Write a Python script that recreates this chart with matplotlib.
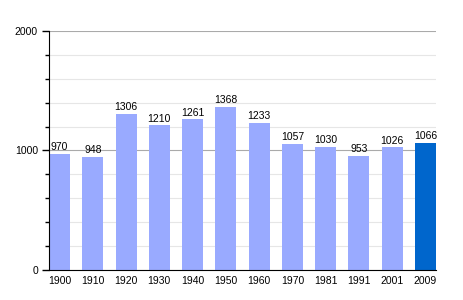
import matplotlib
matplotlib.use("Agg")
import matplotlib.pyplot as plt
from matplotlib.ticker import MultipleLocator

years = ["1900", "1910", "1920", "1930", "1940", "1950", "1960", "1970", "1981", "1991", "2001", "2009"]
population = [970, 948, 1306, 1210, 1261, 1368, 1233, 1057, 1030, 953, 1026, 1066]
colors = ["#99aaff"] * 11 + ["#0066cc"]

plt.rcParams['font.family'] = ['Liberation Sans', 'DejaVu Sans']
fig = plt.figure(figsize=(4.64, 3.0), dpi=100)
ax = fig.add_axes([0.1056, 0.1, 0.834, 0.7967])

x = list(range(len(years)))
w = 0.63
bars = ax.bar(x, population, width=w, align='edge', color=colors, zorder=3)
for xi, v in zip(x, population):
    ax.text(xi + w / 2, v + 15, str(v), ha='center', va='bottom', fontsize=7.5, zorder=4)

ax.set_xlim(0, len(years) - 1 + w)
ax.set_ylim(0, 2000)
ax.set_xticks([xi + w / 2 for xi in x])
ax.set_xticklabels(years, fontsize=7.5)
ax.tick_params(axis='x', length=0, pad=4)
ax.yaxis.set_major_locator(MultipleLocator(1000))
ax.yaxis.set_minor_locator(MultipleLocator(200))
ax.tick_params(axis='y', which='major', length=5, width=1, labelsize=7.5, pad=3)
ax.tick_params(axis='y', which='minor', length=3, width=1)
ax.grid(axis='y', which='minor', color='#e6e6e6', linewidth=0.8, zorder=0)
ax.grid(axis='y', which='major', color='#aaaaaa', linewidth=0.8, zorder=1)
for s in ['top', 'right']:
    ax.spines[s].set_visible(False)
ax.spines['left'].set_color('black')
ax.spines['bottom'].set_color('black')
ax.spines['left'].set_zorder(5)
ax.spines['bottom'].set_zorder(5)

fig.savefig("out.png", dpi=100)
